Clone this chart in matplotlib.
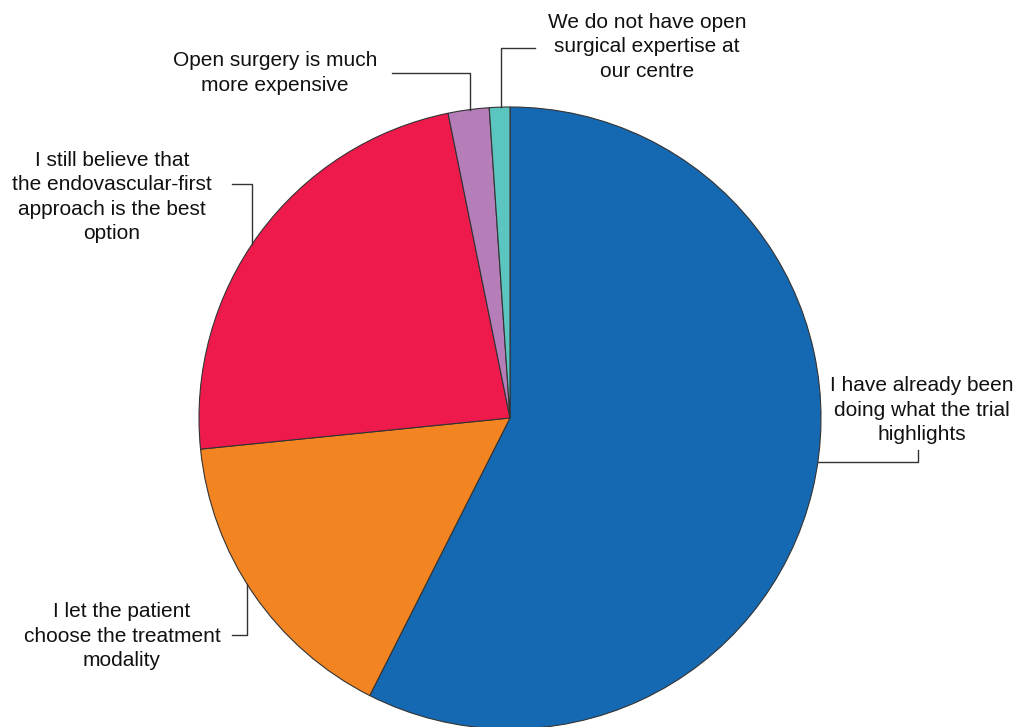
import numpy as np
import matplotlib
matplotlib.use("Agg")
import matplotlib.pyplot as plt

plt.rcParams["font.family"] = ["Liberation Sans", "DejaVu Sans"]

# Datos del gráfico (respuestas)
labels = [
    "I have already been\ndoing what the trial\nhighlights",
    "I let the patient\nchoose the treatment\nmodality",
    "I still believe that\nthe endovascular-first\napproach is the best\noption",
    "Open surgery is much\nmore expensive",
    "We do not have open\nsurgical expertise at\nour centre",
]
counts = [54, 15, 22, 2, 1]
colors = ["#1569b3", "#f28522", "#ee1a4b", "#b57eb9", "#5bc5bf"]

W, H = 1019, 727

fig = plt.figure(figsize=(W / 100, H / 100), dpi=100)
ax = fig.add_axes([0, 0, 1, 1])

# Eje y invertido: coordenadas en pixeles
cx, cy, r = 510, 418, 311
wedges, _ = ax.pie(
    counts,
    colors=colors,
    startangle=-90,
    counterclock=True,
    center=(cx, cy),
    radius=r,
    wedgeprops=dict(edgecolor="#333333", linewidth=0.8),
)
ax.set_xlim(0, W)
ax.set_ylim(H, 0)
ax.set_aspect("equal")
ax.axis("off")

# Posición del texto y de la línea guía para cada etiqueta
# (text_x, text_y, modo, coordenada en la que toca el círculo, esquina, fin)
label_pos = [
    (922, 410, "h", 462, 918, 450),
    (122, 636, "v", 247, 635, 232),
    (112, 197, "v", 252, 184, 232),
    (275, 73, "v", 470, 73, 392),
    (647, 47, "v", 501, 48, 535),
]

for w, lab, (tx, ty, mode, k, c, e) in zip(wedges, labels, label_pos):
    ax.text(tx, ty, lab, ha="center", va="center", fontsize=15,
            linespacing=1.35, color="#111111")
    mid = np.deg2rad((w.theta1 + w.theta2) / 2)
    if mode == "h":
        # línea horizontal desde el borde del círculo
        dx = np.sqrt(r ** 2 - (k - cy) ** 2)
        ax_ = cx + dx * np.sign(np.cos(mid))
        xs = [ax_, c, c]
        ys = [k, k, e]
    else:
        dy = np.sqrt(r ** 2 - (k - cx) ** 2)
        ay = cy + dy * np.sign(np.sin(mid))
        xs = [k, k, e]
        ys = [ay, c, c]
    ax.plot(xs, ys, color="#333333", linewidth=1.0)

fig.savefig("out.png", dpi=100)
